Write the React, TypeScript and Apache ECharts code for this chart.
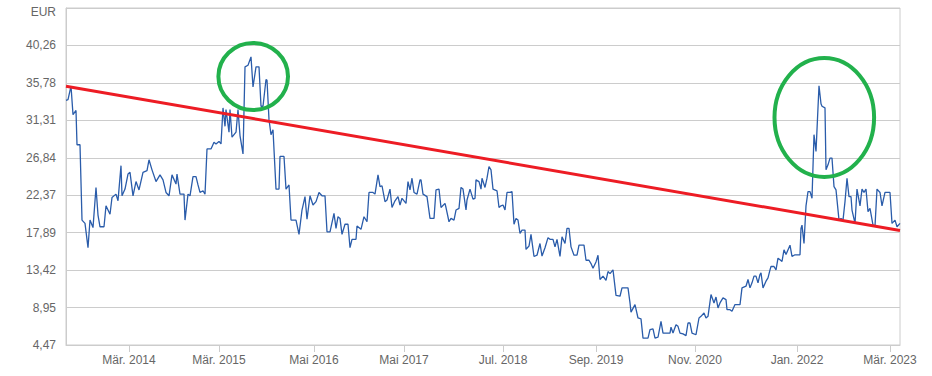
import React, { useEffect, useRef } from "react";
import * as echarts from "echarts";

// time index (trading-period units along the axis) and closing prices in EUR
const weekIdx = [
  0, 2, 5, 7, 10, 11, 14, 16, 19, 22, 24, 27, 30, 32, 34, 38, 40, 44, 46, 50,
  52, 55, 56, 59, 62, 64, 67, 70, 73, 77, 81, 83, 86, 90, 94, 97, 100, 103, 106, 110,
  111, 114, 118, 119, 122, 124, 127, 130, 132, 134, 137, 139, 141, 145, 148, 150, 153, 155, 157, 159,
  160, 163, 164, 166, 170, 172, 174, 177, 179, 182, 185, 187, 190, 193, 195, 197, 200, 201, 203, 205,
  207, 210, 213, 214, 218, 220, 223, 225, 230, 233, 236, 239, 241, 244, 247, 250, 253, 256, 259, 261,
  264, 268, 270, 272, 274, 276, 279, 282, 284, 286, 290, 291, 295, 298, 301, 303, 307, 309, 312, 314,
  316, 319, 321, 324, 326, 329, 332, 334, 336, 340, 342, 344, 346, 348, 351, 354, 355, 357, 361, 364,
  368, 370, 373, 375, 379, 380, 383, 385, 388, 390, 393, 395, 397, 400, 401, 404, 407, 409, 410, 413,
  415, 416, 419, 421, 423, 425, 427, 431, 433, 435, 437, 439, 441, 444, 446, 448, 450, 452, 454, 456,
  459, 460, 463, 465, 468, 471, 474, 476, 479, 482, 484, 487, 489, 491, 494, 496, 499, 501, 503, 505,
  508, 511, 513, 518, 520, 523, 525, 527, 530, 532, 534, 537, 540, 542, 544, 547, 550, 554, 556, 562,
  564, 565, 569, 572, 575, 577, 582, 584, 587, 589, 592, 595, 597, 600, 604, 605, 607, 610, 612, 614,
  617, 620, 622, 624, 626, 630, 633, 635, 638, 640, 642, 645, 648, 650, 652, 654, 657, 660, 661, 664,
  666, 669, 674, 676, 680, 682, 684, 686, 688, 690, 692, 694, 695, 697, 700, 702, 704, 705, 708, 710,
  712, 714, 716, 718, 720, 724, 726, 729, 731, 734, 735, 736, 738, 740, 742, 744, 746, 748, 750, 753,
  755, 756, 759, 760, 762, 764, 766, 768, 770, 773, 775, 777, 779, 781, 783, 785, 786, 789, 791, 794,
  796, 798, 800, 802, 804, 807, 809, 811, 814, 816, 819, 822, 824, 826, 829, 831, 834,
];
const prices = [
  33.7, 33.8, 35.4, 32.0, 32.5, 28.4, 28.4, 19.4, 19.0, 16.1, 19.4, 18.5, 23.3, 20.0, 18.6, 18.6, 21.1, 20.1, 22.1, 22.5,
  21.7, 25.9, 22.3, 23.1, 24.9, 25.1, 22.3, 24.0, 23.0, 25.1, 25.3, 26.6, 25.4, 24.0, 24.8, 24.2, 22.7, 22.3, 24.8, 23.7,
  24.9, 22.5, 22.5, 19.4, 22.5, 22.3, 24.6, 24.6, 23.6, 22.7, 22.9, 22.5, 27.9, 27.9, 28.7, 28.5, 28.8, 28.5, 32.8, 30.6,
  32.6, 29.9, 32.6, 29.3, 29.9, 32.6, 29.5, 27.3, 37.7, 37.9, 38.9, 35.3, 37.7, 37.7, 33.0, 33.0, 36.2, 36.1, 31.4, 29.6,
  30.2, 23.1, 23.1, 27.0, 27.0, 23.1, 23.6, 19.4, 19.4, 17.7, 20.6, 22.2, 19.5, 22.3, 21.2, 21.6, 22.7, 22.3, 22.3, 18.0,
  18.0, 20.2, 18.4, 19.8, 19.6, 17.7, 18.9, 18.9, 16.1, 17.1, 17.1, 18.7, 18.3, 19.8, 19.2, 22.7, 22.7, 22.5, 24.8, 23.4,
  23.5, 21.6, 21.8, 23.1, 20.9, 21.7, 22.2, 21.2, 22.0, 21.4, 24.0, 23.0, 24.4, 22.7, 22.5, 24.2, 24.2, 22.5, 22.2, 19.6,
  19.6, 23.0, 23.1, 20.9, 21.4, 20.9, 19.2, 19.6, 19.4, 20.6, 20.8, 23.3, 23.1, 20.6, 21.8, 23.1, 21.9, 22.0, 24.2, 24.0,
  23.1, 24.4, 23.3, 24.4, 25.8, 25.4, 23.1, 22.9, 20.9, 21.1, 21.2, 20.6, 22.7, 22.7, 22.8, 18.9, 19.6, 19.4, 17.8, 18.2,
  18.2, 15.9, 16.3, 17.7, 15.05, 15.2, 16.6, 15.1, 16.1, 17.3, 17.1, 17.1, 16.2, 17.1, 15.05, 17.4, 16.6, 18.4, 18.4, 16.2,
  15.2, 15.2, 16.4, 16.4, 14.6, 14.6, 14.2, 13.65, 14.4, 15.2, 12.3, 12.7, 12.2, 13.25, 13.0, 13.45, 10.4, 10.3, 11.3, 11.3,
  9.5, 8.4, 9.3, 7.7, 7.6, 5.3, 5.3, 6.3, 6.4, 5.3, 5.4, 7.3, 5.9, 5.9, 5.9, 6.6, 5.9, 6.9, 6.7, 5.9,
  5.8, 5.6, 7.1, 7.1, 5.9, 5.7, 7.7, 7.9, 8.3, 7.7, 7.9, 10.5, 9.5, 10.2, 8.9, 9.5, 10.1, 9.9, 8.7, 8.7,
  8.5, 9.3, 9.3, 11.3, 11.5, 12.3, 11.3, 11.9, 12.7, 12.7, 11.9, 12.9, 13.1, 11.3, 12.1, 12.5, 13.45, 13.85, 13.85, 13.45,
  14.85, 14.65, 14.45, 15.85, 15.3, 16.4, 15.05, 15.25, 15.25, 15.25, 18.4, 18.8, 16.6, 21.1, 22.8, 22.8, 22.0, 29.6, 27.6, 35.45,
  33.3, 33.0, 32.8, 25.4, 26.0, 26.8, 26.8, 23.4, 23.0, 19.4, 19.6, 19.4, 21.6, 24.4, 22.2, 22.2, 20.6, 19.0, 23.1, 21.1,
  23.1, 22.7, 23.1, 20.4, 20.8, 18.8, 18.7, 23.1, 22.7, 21.1, 22.7, 22.7, 22.7, 19.0, 19.4, 18.6, 19.0,
];

// falling resistance line
const trendIdx = [0, 834];
const trendVals = [35.39, 18.16];

// x axis ticks
const xTickIdx = [63, 153, 248, 338, 437, 530, 629, 731, 824];
const xTickLabels = [
  "Mär. 2014", "Mär. 2015", "Mai 2016", "Mai 2017", "Jul. 2018",
  "Sep. 2019", "Nov. 2020", "Jan. 2022", "Mär. 2023",
];

// y axis ticks
const yStep = 4.47375;
const yTickLabels = ["4,47", "8,95", "13,42", "17,89", "22,37", "26,84", "31,31", "35,78", "40,26"];
const unitLabel = "EUR";

const FONT = 'Arial, "Liberation Sans", sans-serif';

export default function App() {
  const ref = useRef<HTMLDivElement>(null);
  useEffect(() => {
    document.body.style.margin = "0";
    const chart = echarts.init(ref.current!, null, { renderer: "svg" });
    chart.setOption({
      animation: false,
      textStyle: { fontFamily: FONT },
      grid: {
        left: 66,
        right: 32,
        top: 8,
        bottom: 31,
        show: true,
        borderColor: "#cccccc",
        borderWidth: 1,
      },
      xAxis: {
        type: "value",
        min: 0,
        max: 834,
        axisLine: { show: true, lineStyle: { color: "#cccccc" } },
        axisTick: {
          show: true,
          length: 7,
          customValues: xTickIdx,
          lineStyle: { color: "#cccccc" },
        },
        axisLabel: {
          customValues: xTickIdx,
          color: "#666666",
          fontSize: 12,
          fontFamily: FONT,
          margin: 9,
          formatter: (v: number) => {
            let best = 0;
            for (let i = 0; i < xTickIdx.length; i++) {
              if (Math.abs(xTickIdx[i] - v) < Math.abs(xTickIdx[best] - v)) best = i;
            }
            return xTickLabels[best];
          },
        },
        splitLine: { show: false },
      },
      yAxis: {
        type: "value",
        min: yStep,
        max: yStep * 10,
        interval: yStep,
        axisLine: { show: true, lineStyle: { color: "#cccccc" } },
        axisTick: { show: false },
        axisLabel: {
          color: "#666666",
          fontSize: 12,
          fontFamily: FONT,
          margin: 10,
          formatter: (v: number) => {
            const i = Math.round(v / yStep) - 1;
            return i >= 0 && i < yTickLabels.length ? yTickLabels[i] : "";
          },
        },
        splitLine: { show: true, lineStyle: { color: "#cccccc", width: 1 } },
      },
      series: [
        {
          type: "line",
          data: weekIdx.map((t, i) => [t, prices[i]]),
          showSymbol: false,
          symbol: "none",
          lineStyle: { color: "#2a5caa", width: 1.3 },
          z: 2,
        },
        {
          type: "line",
          data: trendIdx.map((t, i) => [t, trendVals[i]]),
          showSymbol: false,
          symbol: "none",
          lineStyle: { color: "#ed1c24", width: 3 },
          z: 3,
        },
      ],
      graphic: [
        {
          type: "text",
          x: 56,
          y: 12,
          style: {
            text: unitLabel,
            align: "right",
            verticalAlign: "middle",
            fill: "#666666",
            fontSize: 12,
            fontFamily: FONT,
          },
        },
        {
          type: "ellipse",
          shape: { cx: 253.2, cy: 76.5, rx: 34.8, ry: 33.5 },
          style: { fill: "transparent", stroke: "#22b14c", lineWidth: 4 },
          z: 10,
        },
        {
          type: "ellipse",
          shape: { cx: 824.3, cy: 117.5, rx: 49.8, ry: 59.5 },
          style: { fill: "transparent", stroke: "#22b14c", lineWidth: 4 },
          z: 10,
        },
      ],
    });
    return () => chart.dispose();
  }, []);
  return <div ref={ref} style={{ width: 932, height: 376 }} />;
}
